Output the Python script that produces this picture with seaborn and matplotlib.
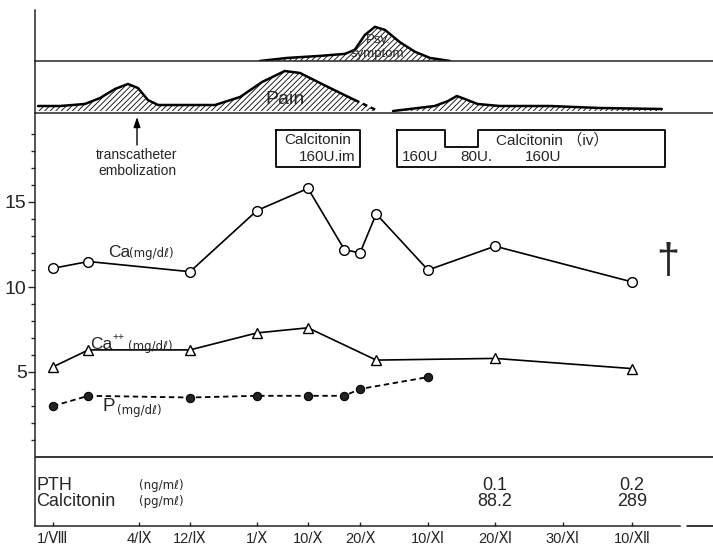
import numpy as np
import matplotlib
matplotlib.use("Agg")
import matplotlib.pyplot as plt
from matplotlib.lines import Line2D
import seaborn as sns
import pandas as pd

# ---------------- data (days counted from 1 Aug) ----------------
tick_days = [0, 34, 42, 61, 70, 80, 101, 111, 121, 131]
tick_labels = ["1/Ⅷ", "4/Ⅸ", "12/Ⅸ", "1/Ⅹ", "10/Ⅹ", "20/Ⅹ", "10/Ⅺ", "20/Ⅺ", "30/Ⅺ", "10/Ⅻ"]

ca_days = [0, 14, 42, 61, 70, 77, 80, 85, 101, 111, 131]
ca_vals = [11.1, 11.5, 10.9, 14.5, 15.8, 12.2, 12.0, 14.3, 11.0, 12.4, 10.3]

caion_days = [0, 14, 42, 61, 70, 85, 111, 131]
caion_vals = [5.3, 6.3, 6.3, 7.3, 7.6, 5.7, 5.8, 5.2]

p_days = [0, 14, 42, 61, 70, 77, 80, 101]
p_vals = [3.0, 3.6, 3.5, 3.6, 3.6, 3.6, 4.0, 4.7]

pain_days = [-5.9, 2.8, 12.6, 18.6, 24.5, 29.6, 33.6, 35.4, 37.0, 40.4, 49.1, 56.2,
             61.9, 65.9, 68.6, 72.3, 76.2, 79.0]
pain_vals = [1.0, 1.0, 1.4, 2.6, 4.4, 5.4, 4.6, 2.2, 1.2, 1.2, 1.2, 2.8,
             5.8, 8.0, 7.6, 5.6, 3.6, 2.2]
pain_gap_days = [79.0, 85.6]
pain_gap_vals = [2.2, 0.0]
pain2_days = [90.2, 95.4, 102.0, 104.0, 105.3, 106.5, 108.4, 111.7, 119.1, 126.3, 135.3]
pain2_vals = [0.0, 0.4, 1.0, 2.0, 3.0, 2.4, 1.4, 1.0, 1.0, 0.6, 0.4]

psy_days = [61.5, 66.3, 72.3, 77.1, 79.0, 81.5, 84.6, 87.7, 92.3, 97.0, 101.3, 104.3]
psy_vals = [0.0, 0.6, 1.0, 1.4, 2.2, 5.1, 6.7, 6.1, 3.7, 1.8, 0.6, 0.0]

pth_row = ["0.1", "0.2"]
calc_row = ["88.2", "289"]
table_days = [111, 131]

# ---------------- layout helpers ----------------
W, H = 713, 547
sns.set_style("white")
plt.rcParams["font.family"] = ["Liberation Sans", "DejaVu Sans"]
plt.rcParams["hatch.linewidth"] = 0.6

fig = plt.figure(figsize=(W / 100, H / 100), dpi=100)


def fx(x):
    return x / W


def fy(y):
    return 1 - y / H


def rect(x0, y0, x1, y1):
    return [fx(x0), fy(y1), fx(x1) - fx(x0), fy(y0) - fy(y1)]


# hand-drawn (non-uniform) time axis
axis_days = [-1000, -7.1] + tick_days + [142.7, 1000]
axis_pos = [35 - 992.9 * 2.53, 35, 53, 139, 190, 257, 308, 360, 428, 495, 563, 632, 713,
            713 + 857.3 * 6.9]


def fwd(d):
    return np.interp(d, axis_days, axis_pos)


def inv(p):
    return np.interp(p, axis_pos, axis_days)


XL = (-7.1, 142.7)
LW = 1.1

# ---------------- psy symptom panel ----------------
ax_psy = fig.add_axes(rect(35, 10, 713, 61))
ax_psy.set_xscale("function", functions=(fwd, inv))
ax_psy.set_xlim(*XL)
ax_psy.set_ylim(0, 10)
ax_psy.fill_between(psy_days, 0, psy_vals, facecolor="none", edgecolor="black",
                    hatch="//////", linewidth=0)
sns.lineplot(x=psy_days, y=psy_vals, ax=ax_psy, color="black", lw=1.8, sort=False)
ax_psy.text(85.5, 4.1, "Psy.", ha="center", va="center", fontsize=9.5)
ax_psy.text(85.5, 1.4, "symptom", ha="center", va="center", fontsize=9.5)

# ---------------- pain panel ----------------
ax_pain = fig.add_axes(rect(35, 61, 713, 113))
ax_pain.set_xscale("function", functions=(fwd, inv))
ax_pain.set_xlim(*XL)
ax_pain.set_ylim(-0.4, 10)
fill_d = pain_days + pain_gap_days[1:] + pain2_days
fill_v = pain_vals + pain_gap_vals[1:] + pain2_vals
ax_pain.fill_between(fill_d, 0, fill_v, facecolor="none", edgecolor="black",
                     hatch="//////", linewidth=0)
sns.lineplot(x=pain_days, y=pain_vals, ax=ax_pain, color="black", lw=1.8, sort=False)
sns.lineplot(x=pain_gap_days, y=pain_gap_vals, ax=ax_pain, color="black", lw=1.8,
             linestyle=(0, (2, 1.5)), sort=False)
sns.lineplot(x=pain2_days, y=pain2_vals, ax=ax_pain, color="black", lw=1.8, sort=False)
ax_pain.text(66, 2.2, "Pain", ha="center", va="center", fontsize=14)

for a in (ax_psy, ax_pain):
    a.set_xticks([])
    a.set_yticks([])
    for s in ("top", "right"):
        a.spines[s].set_visible(False)
    a.spines["left"].set_linewidth(LW)
    a.spines["bottom"].set_linewidth(LW)
    a.patch.set_alpha(0)

# ---------------- main panel ----------------
ax = fig.add_axes(rect(35, 113, 713, 526))
ax.set_xscale("function", functions=(fwd, inv))
ax.set_xlim(*XL)
ax.set_ylim((457 - 526) / 17, (457 - 113) / 17)
ax.patch.set_alpha(0)

df_ca = pd.DataFrame({"day": ca_days, "val": ca_vals})
df_ion = pd.DataFrame({"day": caion_days, "val": caion_vals})
df_p = pd.DataFrame({"day": p_days, "val": p_vals})

sns.lineplot(data=df_ca, x="day", y="val", ax=ax, color="black", lw=1.2, marker="o",
             markersize=7, markerfacecolor="white", markeredgecolor="black",
             markeredgewidth=1.0, sort=False)
sns.lineplot(data=df_ion, x="day", y="val", ax=ax, color="black", lw=1.2, marker="^",
             markersize=7.5, markerfacecolor="white", markeredgecolor="black",
             markeredgewidth=1.0, sort=False)
sns.lineplot(data=df_p, x="day", y="val", ax=ax, color="black", lw=1.3, marker="o",
             markersize=6, markerfacecolor="#222222", markeredgecolor="black",
             linestyle=(0, (3, 2)), sort=False)

ax.axhline(0, color="black", lw=LW)

ax.set_yticks([5, 10, 15])
ax.set_yticklabels(["5", "10", "15"], fontsize=14)
ax.set_yticks([v for v in range(1, 20) if v % 5], minor=True)
ax.tick_params(axis="y", which="major", direction="out", length=5, width=1, pad=1, left=True)
ax.tick_params(axis="y", which="minor", direction="out", length=3, width=1, left=True)

ax.set_xticks(tick_days)
ax.set_xticklabels(tick_labels, fontsize=10.5)
ax.set_xticks([], minor=True)
ax.tick_params(axis="x", which="major", direction="in", length=3, width=1, pad=4, bottom=True)
ax.set_xlabel("")
ax.set_ylabel("")
for s in ("top", "right"):
    ax.spines[s].set_visible(False)
ax.spines["left"].set_linewidth(LW)
ax.spines["bottom"].set_linewidth(LW)
ax.spines["bottom"].set_bounds(XL[0], inv(680))
ax.plot([inv(687), XL[1]], [ax.get_ylim()[0]] * 2, color="black", lw=LW, clip_on=False)

# series labels
unit = dict(fontsize=8.5, family=["DejaVu Sans"])
ax.text(inv(108), 12.05, "Ca", fontsize=12.5, va="center")
ax.text(inv(129), 11.95, "(mg/dℓ)", va="center", **unit)
ax.text(inv(90), 6.6, "Ca", fontsize=12.5, va="center")
ax.text(inv(113), 7.05, "++", va="center", fontsize=7.5)
ax.text(inv(128), 6.5, "(mg/dℓ)", va="center", **unit)
ax.text(inv(102), 2.95, "P", fontsize=13.5, va="center")
ax.text(inv(117), 2.75, "(mg/dℓ)", va="center", **unit)

# table rows
ax.text(-6.5, -1.65, "PTH", fontsize=13, va="center")
ax.text(-6.5, -2.6, "Calcitonin", fontsize=13, va="center")
ax.text(inv(139), -1.65, "(ng/mℓ)", va="center", **unit)
ax.text(inv(139), -2.6, "(pg/mℓ)", va="center", **unit)
for d, a_, b_ in zip(table_days, pth_row, calc_row):
    ax.text(d, -1.65, a_, fontsize=13, va="center", ha="center")
    ax.text(d, -2.6, b_, fontsize=13, va="center", ha="center")

# dagger
ax.text(inv(668), 11.5, "†", fontsize=30, ha="center", va="center")

# arrow: transcatheter embolization
ax.annotate("", xy=(inv(137), (457 - 117) / 17), xytext=(inv(137), (457 - 145) / 17),
            arrowprops=dict(arrowstyle="-|>,head_length=0.6,head_width=0.2", color="black",
                            lw=1.0, shrinkA=0, shrinkB=0))
ax.text(inv(137), (457 - 155) / 17, "transcatheter", fontsize=10, ha="center", va="center")
ax.text(inv(137), (457 - 171) / 17, "embolization", fontsize=10, ha="center", va="center")

# calcitonin boxes (figure coordinates)
def fig_line(xs, ys, **kw):
    fig.add_artist(Line2D([fx(v) for v in xs], [fy(v) for v in ys], color="black",
                          lw=1.3, transform=fig.transFigure, **kw))


fig_line([276, 360, 360, 276, 276], [130, 130, 167, 167, 130])
fig.text(fx(318), fy(140), "Calcitonin", fontsize=11, ha="center", va="center")
fig.text(fx(356), fy(157), "160U.im", fontsize=11, ha="right", va="center")

fig_line([397, 445, 445, 478, 478, 665, 665, 397, 397],
         [130, 130, 147, 147, 130, 130, 167, 167, 130])
fig.text(fx(552), fy(140), "Calcitonin （iv）", fontsize=11, ha="center", va="center",
         family=["Liberation Sans", "Noto Sans CJK JP"])
fig.text(fx(420), fy(157), "160U", fontsize=11, ha="center", va="center")
fig.text(fx(476), fy(157), "80U.", fontsize=11, ha="center", va="center")
fig.text(fx(543), fy(157), "160U", fontsize=11, ha="center", va="center")

fig.savefig("out.png", dpi=100)
